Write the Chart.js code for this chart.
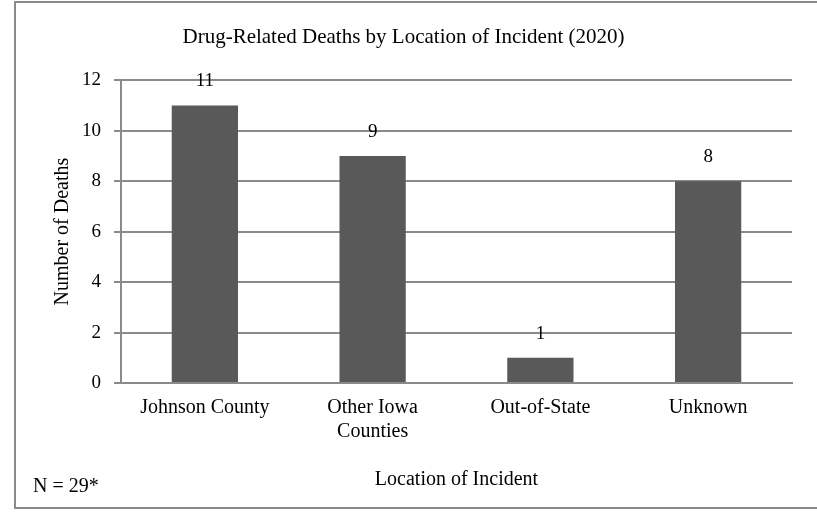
<!DOCTYPE html>
<html>
<head>
<meta charset="utf-8">
<script src="https://cdn.jsdelivr.net/npm/chart.js@4"></script>
<style>
    body { margin: 0; background: #fff; }
</style>
</head>
<body>
<canvas id="deathChart" width="817" height="512"></canvas>
<script>
// data
const locations = ['Johnson County', ['Other Iowa', 'Counties'], 'Out-of-State', 'Unknown'];
const deaths = [11, 9, 1, 8];
const yTicks = [0, 2, 4, 6, 8, 10, 12];
const chartTitle = 'Drug-Related Deaths by Location of Incident (2020)';
const noteText = 'N = 29*';

const serif = 'Liberation Serif';
const lineGray = '#8a8a8a';

// border box, value labels and the N note
const extras = {
    id: 'extras',
    beforeDraw(chart) {
        const c = chart.ctx;
        c.save();
        c.fillStyle = '#fff';
        c.fillRect(0, 0, chart.width, chart.height);
        c.restore();
    },
    afterDraw(chart) {
        const c = chart.ctx;
        c.save();
        c.strokeStyle = lineGray;
        c.lineWidth = 2;
        c.strokeRect(15, 2, 830, 506);

        c.font = '19px "' + serif + '"';
        c.fillStyle = '#000';
        c.textAlign = 'center';
        c.textBaseline = 'middle';
        const meta = chart.getDatasetMeta(0);
        meta.data.forEach((bar, i) => {
            c.fillText(deaths[i], bar.x, bar.y - 24);
        });

        c.font = '20px "' + serif + '"';
        c.textAlign = 'left';
        c.fillText(noteText, 33, 487);
        c.restore();
    }
};

const ctx = document.getElementById('deathChart').getContext('2d');

const myChart = new Chart(ctx, {
    type: 'bar',
    data: {
        labels: locations,
        datasets: [{
            data: deaths,
            backgroundColor: '#595959',
            categoryPercentage: 1,
            barPercentage: 0.395
        }]
    },
    options: {
        responsive: false,
        animation: false,
        layout: { padding: { left: 15, right: 25, top: 0, bottom: 4 } },
        plugins: {
            legend: { display: false },
            tooltip: { enabled: false },
            title: {
                display: true,
                text: chartTitle,
                color: '#000',
                font: { family: serif, size: 21, weight: 'normal' },
                padding: { top: 25, bottom: 30 }
            }
        },
        scales: {
            x: {
                grid: { drawOnChartArea: false, drawTicks: false },
                border: { color: lineGray, width: 2 },
                ticks: {
                    color: '#000',
                    font: { family: serif, size: 20 },
                    padding: 13,
                    maxRotation: 0
                },
                title: {
                    display: true,
                    text: 'Location of Incident',
                    color: '#000',
                    font: { family: serif, size: 20 },
                    padding: { top: 0, bottom: 16 }
                },
                afterFit(scale) { scale.height = 125; }
            },
            y: {
                min: 0,
                max: 12,
                afterBuildTicks(scale) {
                    scale.ticks = yTicks.map(v => ({ value: v }));
                },
                grid: { color: lineGray, lineWidth: 2, tickLength: 7 },
                border: { color: lineGray, width: 2 },
                ticks: {
                    color: '#000',
                    font: { family: serif, size: 19 },
                    padding: 13
                },
                title: {
                    display: true,
                    text: 'Number of Deaths',
                    color: '#000',
                    font: { family: serif, size: 20 },
                    padding: { top: 36, bottom: 0 }
                },
                afterFit(scale) { scale.width = 106; }
            }
        }
    },
    plugins: [extras]
});
</script>
</body>
</html>
